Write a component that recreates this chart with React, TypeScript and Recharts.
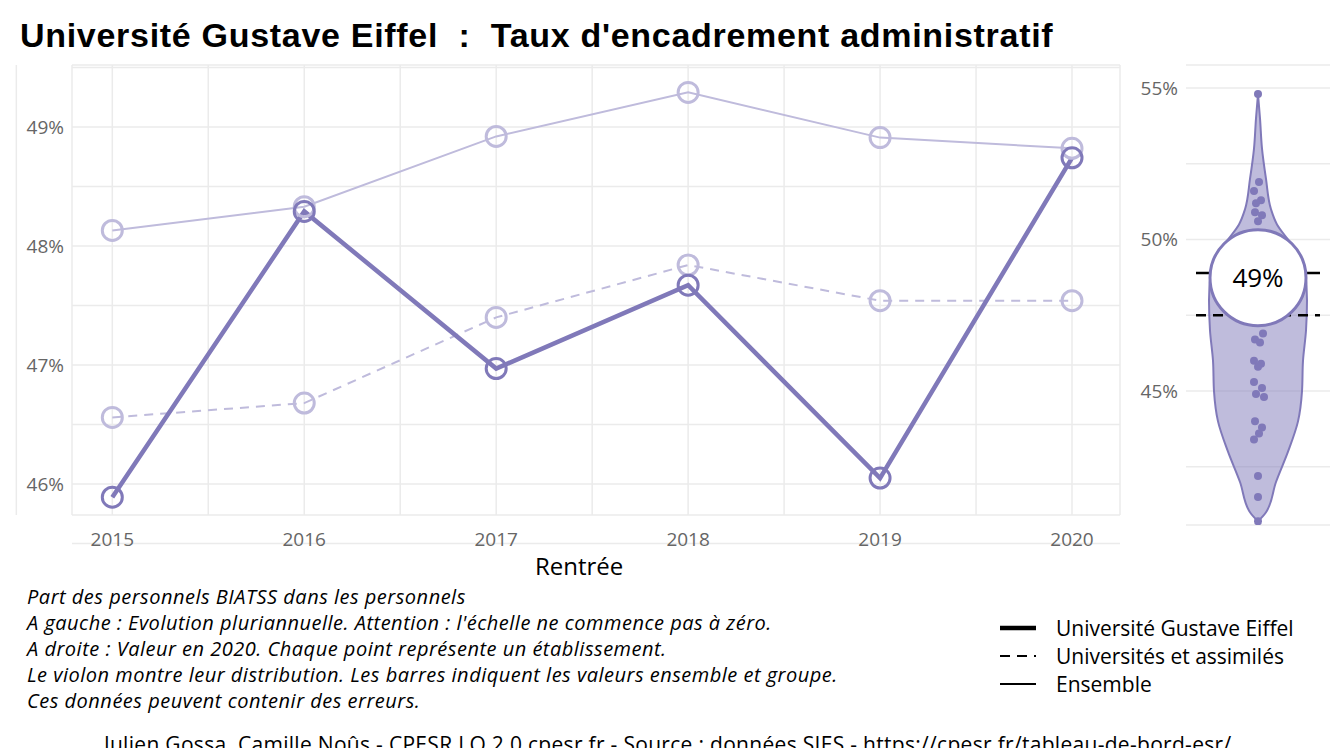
import React from "react";
import {
  LineChart, Line, XAxis, YAxis, CartesianGrid, AreaChart, Area,
  ScatterChart, Scatter, ReferenceLine,
} from "recharts";

const MAIN = "#8079b9";
const LIGHT = "#bfbbdc";
const FONT = "'Open Sans', Lato, sans-serif";

const years = [2015, 2016, 2017, 2018, 2019, 2020];
const eiffel = [45.89, 48.29, 46.97, 47.67, 46.05, 48.74];
const ensemble = [48.13, 48.33, 48.92, 49.29, 48.91, 48.82];
const universites = [46.56, 46.68, 47.4, 47.84, 47.54, 47.54];

const violinLevels = [54.8, 54, 53, 52, 51, 50.5, 50, 49.5, 49, 48, 47, 46, 45, 44, 43, 42, 41, 40.7];
const violinHalfWidth = [0, 2, 4, 8, 13, 19, 30, 41, 47, 49, 48, 45, 44, 40, 30, 18, 8, 0];

const dotValues = [54.8, 51.9, 51.6, 51.3, 51.2, 50.9, 50.8, 50.6, 46.9, 46.7, 46.6, 46.0, 45.9, 45.8, 45.3, 45.1, 44.9, 44.8, 44.0, 43.8, 43.6, 43.4, 42.2, 41.5, 40.7];
const dotJitter = [0, 1, -4, 3, -2, -3, 4, 0, 5, -3, 2, -4, 3, 0, -4, 4, -2, 6, -3, 4, 1, -4, 0, 0, 0];

const valEnsemble = 48.9;
const valUniv = 47.5;
const val2020 = 48.74;

const lineData = years.map((y, i) => ({ year: y, eiffel: eiffel[i], ensemble: ensemble[i], univ: universites[i] }));
const violinData = violinLevels.map((v, i) => ({ v, w: [-violinHalfWidth[i], violinHalfWidth[i]] }));
const dotData = dotValues.map((v, i) => ({ x: dotJitter[i], v }));

const yTicks = [45.5, 46, 46.5, 47, 47.5, 48, 48.5, 49, 49.5];
const xTicks = [2014.5, 2015, 2015.5, 2016, 2016.5, 2017, 2017.5, 2018, 2018.5, 2019, 2019.5, 2020, 2020.5];
const rTicks = [42.5, 45, 47.5, 50, 52.5, 55];

const tickStyle = { fill: "#666", fontSize: 19, fontFamily: FONT };

const hollow = (color: string, r: number) => (p: any) =>
  <circle cx={p.cx} cy={p.cy} r={r} fill="white" fillOpacity={0} stroke={color} strokeWidth={3} />;

export default function App() {
  return (
    <div style={{ position: "relative", width: 1344, height: 756, margin: -8, background: "white", fontFamily: FONT, overflow: "hidden" }}>
      <div style={{ position: "absolute", left: 20, top: 16, fontFamily: "'Liberation Sans', Arial, sans-serif", fontWeight: "bold", fontSize: 34, letterSpacing: 0.7, color: "#000", whiteSpace: "nowrap" }}>
        Université Gustave Eiffel &nbsp;:&nbsp; Taux d'encadrement administratif
      </div>

      <div style={{ position: "absolute", left: 0, top: 0 }}>
        <LineChart width={1125} height={560} data={lineData} margin={{ top: 65, right: 5, left: 0, bottom: 15 }}>
          <CartesianGrid stroke="#ebebeb" strokeWidth={1.5} />
          <XAxis dataKey="year" type="number" domain={[2014.79, 2020.25]} ticks={xTicks} allowDataOverflow height={30}
            tickFormatter={(v) => (Number.isInteger(v) ? String(v) : "")}
            axisLine={false} tickLine={false} tick={tickStyle} tickMargin={12} />
          <YAxis type="number" domain={[45.74, 49.52]} ticks={yTicks} allowDataOverflow width={72}
            tickFormatter={(v) => (Number.isInteger(v) ? `${v}%` : "")}
            axisLine={false} tickLine={false} tick={tickStyle} />
          <Line dataKey="ensemble" stroke={LIGHT} strokeWidth={2} dot={hollow(LIGHT, 10)} isAnimationActive={false} />
          <Line dataKey="univ" stroke={LIGHT} strokeWidth={2} strokeDasharray="9 7" dot={hollow(LIGHT, 10)} isAnimationActive={false} />
          <Line dataKey="eiffel" stroke={MAIN} strokeWidth={4.5} dot={hollow(MAIN, 10)} isAnimationActive={false} />
        </LineChart>
      </div>

      <div style={{ position: "absolute", left: 535, top: 549, fontSize: 24, color: "#000" }}>Rentrée</div>

      <div style={{ position: "absolute", left: 1120, top: 0 }}>
        <AreaChart layout="vertical" width={224} height={560} data={violinData} margin={{ top: 65, right: 14, left: 0, bottom: 35 }}>
          <CartesianGrid stroke="#ebebeb" strokeWidth={1.5} vertical={false} />
          <XAxis type="number" domain={[-72, 72]} hide />
          <YAxis dataKey="v" type="number" domain={[40.58, 55.76]} ticks={rTicks} allowDataOverflow width={66} reversed
            tickFormatter={(v) => (Number.isInteger(v) && v % 5 === 0 ? `${v}%` : "")}
            axisLine={false} tickLine={false} tick={tickStyle} />
          <Area dataKey="w" type="monotone" stroke={MAIN} strokeWidth={2} fill={MAIN} fillOpacity={0.5} isAnimationActive={false} />
        </AreaChart>
      </div>

      <div style={{ position: "absolute", left: 1120, top: 0 }}>
        <ScatterChart width={224} height={560} margin={{ top: 65, right: 14, left: 0, bottom: 35 }}>
          <XAxis dataKey="x" type="number" domain={[-72, 72]} hide />
          <YAxis dataKey="v" type="number" domain={[40.58, 55.76]} allowDataOverflow width={66}
            tick={false} axisLine={false} tickLine={false} />
          <Scatter data={dotData} fill={MAIN} shape={(p: any) => <circle cx={p.cx} cy={p.cy} r={4} fill={MAIN} />} isAnimationActive={false} />
          <ReferenceLine segment={[{ x: -62, y: valEnsemble }, { x: 62, y: valEnsemble }]} stroke="#000" strokeWidth={2.5} />
          <ReferenceLine segment={[{ x: -62, y: valUniv }, { x: 62, y: valUniv }]} stroke="#000" strokeWidth={2.5} strokeDasharray="10 7" />
          <Scatter data={[{ x: 0, v: val2020 }]} isAnimationActive={false}
            shape={(p: any) => (
              <g>
                <circle cx={p.cx} cy={p.cy} r={48} fill="white" stroke={MAIN} strokeWidth={3} />
                <text x={p.cx} y={p.cy + 9} textAnchor="middle" fontSize={26} fontFamily={FONT} fill="#000">49%</text>
              </g>
            )} />
        </ScatterChart>
      </div>

      <div style={{ position: "absolute", left: 27, top: 584, fontStyle: "italic", fontSize: 20, lineHeight: "26px", letterSpacing: 0.5, color: "#000", whiteSpace: "nowrap" }}>
        <div>Part des personnels BIATSS dans les personnels</div>
        <div>A gauche : Evolution pluriannuelle. Attention : l'échelle ne commence pas à zéro.</div>
        <div>A droite : Valeur en 2020. Chaque point représente un établissement.</div>
        <div>Le violon montre leur distribution. Les barres indiquent les valeurs ensemble et groupe.</div>
        <div>Ces données peuvent contenir des erreurs.</div>
      </div>

      <div style={{ position: "absolute", left: 1000, top: 614, fontSize: 21, lineHeight: "28px", color: "#000", whiteSpace: "nowrap" }}>
        {[
          { label: "Université Gustave Eiffel", w: 4.5, dash: undefined },
          { label: "Universités et assimilés", w: 2, dash: "10 7" },
          { label: "Ensemble", w: 2, dash: undefined },
        ].map((it) => (
          <div key={it.label} style={{ display: "flex", alignItems: "center" }}>
            <svg width={44} height={28} style={{ marginRight: 12 }}>
              <line x1={0} x2={36} y1={14} y2={14} stroke="#000" strokeWidth={it.w} strokeDasharray={it.dash} />
            </svg>
            {it.label}
          </div>
        ))}
      </div>

      <div style={{ position: "absolute", left: 104, top: 730, fontSize: 21, letterSpacing: 0.3, color: "#000", whiteSpace: "nowrap" }}>
        Julien Gossa, Camille Noûs - CPESR LO 2.0 cpesr.fr - Source : données SIES - https://cpesr.fr/tableau-de-bord-esr/
      </div>
    </div>
  );
}
